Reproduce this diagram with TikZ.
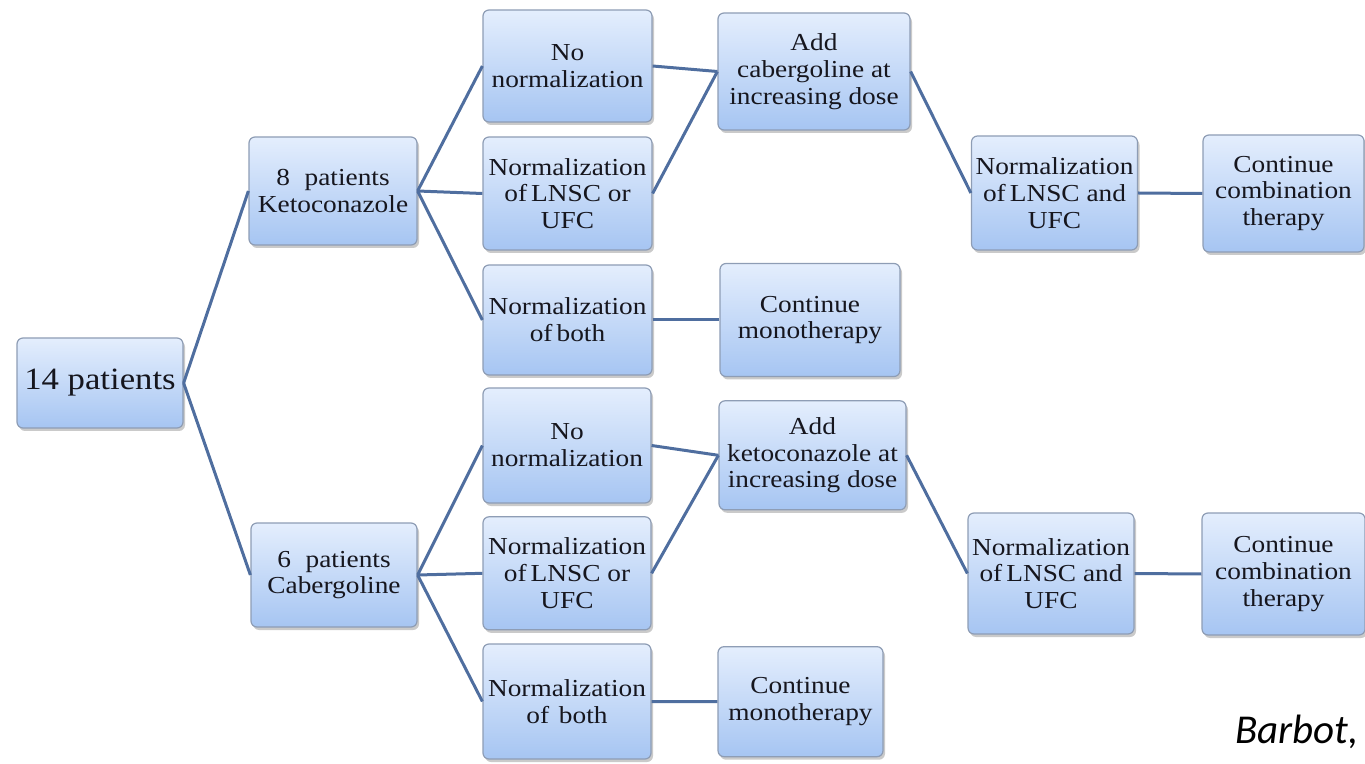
\documentclass[tikz,border=0pt]{standalone}
\usepackage{fontspec}
\setmainfont{Liberation Serif}
\newfontfamily\boxfont[FakeStretch=1.12]{Liberation Serif}
\newfontfamily\citefont{Carlito}
\usetikzlibrary{shadows}
\definecolor{linecol}{HTML}{4F6E9F}
\definecolor{boxtop}{HTML}{E4EEFD}
\definecolor{boxbot}{HTML}{A6C5F2}
\definecolor{boxedge}{HTML}{8E9DB5}
\definecolor{txt}{HTML}{16161E}
\tikzset{
  box/.style={draw=boxedge, line width=0.6pt, rounded corners=3pt,
    top color=boxtop, bottom color=boxbot, align=center, inner sep=1pt,
    text=txt, font=\boxfont\fontsize{12.2}{13.4}\selectfont,
    drop shadow={opacity=0.35, shadow xshift=1pt, shadow yshift=-1.5pt, fill=black!60}},
  link/.style={draw=linecol, line width=1.5pt},
}
\begin{document}
\begin{tikzpicture}[x=0.5pt, y=-0.5pt]
\useasboundingbox (0,0) rectangle (1365,764);
% top branch
\node[box, minimum width=83pt, minimum height=45pt, font=\boxfont\fontsize{15.5}{17}\selectfont] (p14) at (100,383) {14 patients};
\node[box, minimum width=84pt, minimum height=54pt] (k8) at (333,191) {8\hspace{0.6em}patients\\Ketoconazole};
\node[box, minimum width=84.5pt, minimum height=56pt] (kn1) at (567.5,66) {No\\normalization};
\node[box, minimum width=84.5pt, minimum height=56.5pt] (kn2) at (567.5,193.5) {Normalization\\of\,LNSC or\\UFC};
\node[box, minimum width=84.5pt, minimum height=55pt] (kn3) at (567.5,320) {Normalization\\of\,both};
\node[box, minimum width=96pt, minimum height=58.5pt] (kadd) at (814,71.5) {Add\\cabergoline at\\increasing dose};
\node[box, minimum width=90pt, minimum height=56.5pt] (kmono) at (810,320) {Continue\\monotherapy};
\node[box, minimum width=83pt, minimum height=57pt] (kboth) at (1054.5,193) {Normalization\\of\,LNSC and\\UFC};
\node[box, minimum width=80.5pt, minimum height=58.5pt] (kcont) at (1283.5,193.5) {Continue\\combination\\therapy};
% bottom branch
\node[box, minimum width=83pt, minimum height=52pt] (c6) at (334,575) {6\hspace{0.6em}patients\\Cabergoline};
\node[box, minimum width=84pt, minimum height=57.5pt] (cn1) at (567,445.5) {No\\normalization};
\node[box, minimum width=84pt, minimum height=56.5pt] (cn2) at (567,573.3) {Normalization\\of\,LNSC or\\UFC};
\node[box, minimum width=84pt, minimum height=57.5pt] (cn3) at (567,701.5) {Normalization\\of\hspace{0.4em}both};
\node[box, minimum width=93.5pt, minimum height=54.5pt] (cadd) at (812.5,455.3) {Add\\ketoconazole at\\increasing dose};
\node[box, minimum width=82.5pt, minimum height=55pt] (cmono) at (800.5,701.7) {Continue\\monotherapy};
\node[box, minimum width=83pt, minimum height=60.5pt] (cboth) at (1051,573.5) {Normalization\\of\,LNSC and\\UFC};
\node[box, minimum width=81.5pt, minimum height=61pt] (ccont) at (1283.5,574) {Continue\\combination\\therapy};
% connectors
\draw[link] (p14.east) -- (k8.west);
\draw[link] (p14.east) -- (c6.west);
\draw[link] (k8.east) -- (kn1.west);
\draw[link] (k8.east) -- (kn2.west);
\draw[link] (k8.east) -- (kn3.west);
\draw[link] (kn1.east) -- (kadd.west);
\draw[link] (kn2.east) -- (kadd.west);
\draw[link] (kn3.east) -- (kmono.west);
\draw[link] (kadd.east) -- (kboth.west);
\draw[link] (kboth.east) -- (kcont.west);
\draw[link] (c6.east) -- (cn1.west);
\draw[link] (c6.east) -- (cn2.west);
\draw[link] (c6.east) -- (cn3.west);
\draw[link] (cn1.east) -- (cadd.west);
\draw[link] (cn2.east) -- (cadd.west);
\draw[link] (cn3.east) -- (cmono.west);
\draw[link] (cadd.east) -- (cboth.west);
\draw[link] (cboth.east) -- (ccont.west);
% citation
\node[anchor=base west, inner sep=0pt, font=\citefont\itshape\fontsize{20.5}{24}\selectfont] (cite) at (1235,743) {Barbot,};
\end{tikzpicture}
\end{document}
